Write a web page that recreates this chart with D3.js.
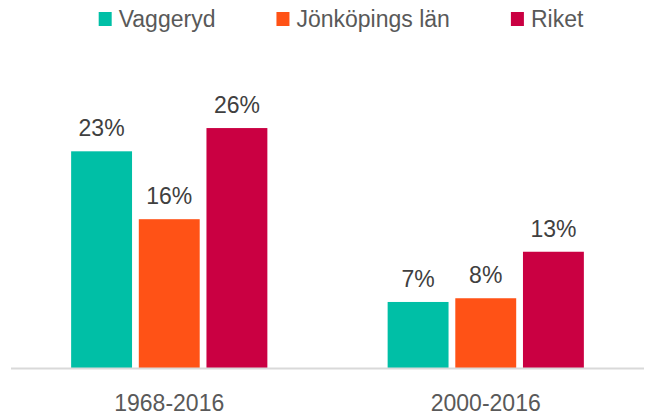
<!DOCTYPE html>
<html>
<head>
<meta charset="utf-8">
<script src="https://cdn.jsdelivr.net/npm/d3@7"></script>
<style>
  body { margin: 0; background: #fff; }
  svg { display: block; font-family: "Liberation Sans", Arial, sans-serif; }
</style>
</head>
<body>
<svg id="chart" width="645" height="419"></svg>
<script>
// Periods on the x axis
const periods = ["1968-2016", "2000-2016"];
// Series shown in the legend
const seriesNames = ["Vaggeryd", "Jönköpings län", "Riket"];
const seriesColors = ["#00BFA6", "#FF5216", "#CA0042"];
// Growth per period, one array per series
const vaggeryd = [0.233, 0.071];
const jonkoping = [0.160, 0.075];
const riket = [0.258, 0.125];

const seriesValues = [vaggeryd, jonkoping, riket];

const svg = d3.select("#chart");
const width = 645;
const baseline = 368;

const x0 = d3.scaleBand()
  .domain(periods)
  .range([11, 644])
  .paddingInner(0.38)
  .paddingOuter(0.19);

const x1 = d3.scaleBand()
  .domain(seriesNames)
  .range([0, x0.bandwidth()])
  .paddingInner(0.1);

const y = d3.scaleLinear()
  .domain([0, 0.3])
  .range([baseline, baseline - 279]);

const fmt = d3.format(".0%");

// Build rows: one per period, holding each series value
const rows = periods.map((p, i) => ({
  period: p,
  values: seriesNames.map((s, j) => ({ name: s, value: seriesValues[j][i], color: seriesColors[j] }))
}));

const groups = svg.selectAll(".group")
  .data(rows)
  .enter().append("g")
  .attr("class", "group")
  .attr("transform", d => `translate(${x0(d.period)},0)`);

groups.selectAll("rect")
  .data(d => d.values)
  .enter().append("rect")
  .attr("x", d => x1(d.name))
  .attr("y", d => y(d.value))
  .attr("width", x1.bandwidth())
  .attr("height", d => y(0) - y(d.value))
  .attr("fill", d => d.color);

groups.selectAll(".val")
  .data(d => d.values)
  .enter().append("text")
  .attr("class", "val")
  .attr("x", d => x1(d.name) + x1.bandwidth() / 2)
  .attr("y", d => y(d.value) - 15)
  .attr("text-anchor", "middle")
  .attr("font-size", "23px")
  .attr("fill", "#404040")
  .text(d => fmt(d.value));

// Baseline
svg.append("line")
  .attr("x1", 11)
  .attr("x2", 644)
  .attr("y1", baseline + 0.5)
  .attr("y2", baseline + 0.5)
  .attr("stroke", "#d9d9d9")
  .attr("stroke-width", 2);

// Category labels
svg.selectAll(".cat")
  .data(periods)
  .enter().append("text")
  .attr("class", "cat")
  .attr("x", d => x0(d) + x0.bandwidth() / 2)
  .attr("y", 411)
  .attr("text-anchor", "middle")
  .attr("font-size", "23px")
  .attr("fill", "#595959")
  .text(d => d);

// Legend
const legend = svg.append("g");
let lx = 0;
seriesNames.forEach((s, i) => {
  const item = legend.append("g").attr("transform", `translate(${lx},0)`);
  item.append("rect")
    .attr("x", 0)
    .attr("y", 12)
    .attr("width", 13)
    .attr("height", 14)
    .attr("fill", seriesColors[i]);
  const t = item.append("text")
    .attr("x", 20)
    .attr("y", 27)
    .attr("font-size", "23px")
    .attr("fill", "#595959")
    .text(s);
  lx += 20 + t.node().getComputedTextLength() + 61;
});
const lw = lx - 61;
legend.attr("transform", `translate(${341 - lw / 2},0)`);
</script>
</body>
</html>
